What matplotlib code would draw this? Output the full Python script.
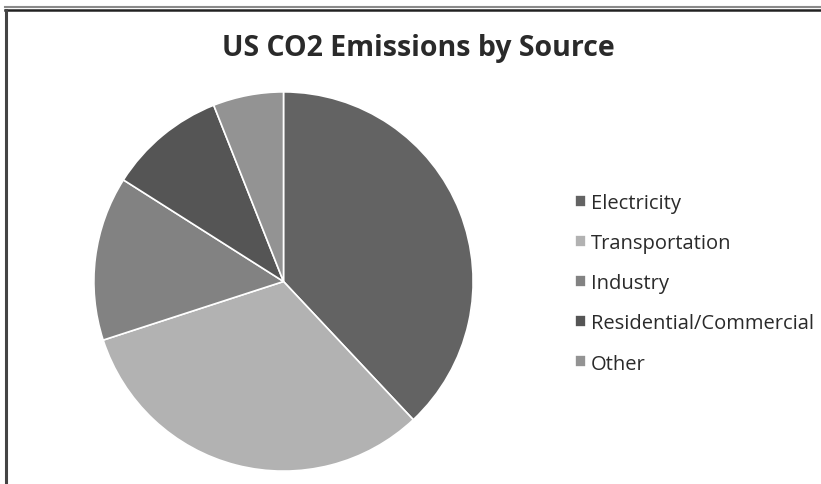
import matplotlib
matplotlib.use("Agg")
import matplotlib.pyplot as plt
from matplotlib.lines import Line2D

categories = ["Electricity", "Transportation", "Industry", "Residential/Commercial", "Other"]
values = [38, 32, 14, 10, 6]
colors = ["#636363", "#b2b2b2", "#828282", "#555555", "#939393"]

W, H = 821, 485
fig = plt.figure(figsize=(W / 100, H / 100), dpi=100)
fig.patch.set_facecolor("white")

# frame lines
fig.add_artist(Line2D([5 / W, 1], [1 - 8 / H, 1 - 8 / H], color="#8a8a8a", lw=1.5, transform=fig.transFigure))
fig.add_artist(Line2D([5 / W, 1], [1 - 11 / H, 1 - 11 / H], color="#222222", lw=1.8, transform=fig.transFigure))
fig.add_artist(Line2D([6 / W, 6 / W], [0, 1 - 11 / H], color="#444444", lw=2.2, transform=fig.transFigure))

cx, cy, r = 283.5, 282.5, 191.5
ax = fig.add_axes([(cx - r) / W, (H - cy - r) / H, 2 * r / W, 2 * r / H])
wedges, _ = ax.pie(values, colors=colors, startangle=90, counterclock=False,
                   wedgeprops=dict(edgecolor="white", linewidth=1.2))
ax.set_xlim(-1.01, 1.01)
ax.set_ylim(-1.01, 1.01)
ax.set_aspect("equal")
ax.axis("off")

fig.text(418 / W, 1 - 56 / H, "US CO2 Emissions by Source", ha="center", va="baseline",
         fontsize=20.5, fontweight="bold", family="Open Sans", color="#2a2a2a")

leg = fig.legend(wedges, categories, loc="upper left", bbox_to_anchor=(575 / W, 1 - 194 / H),
                 frameon=False, prop=dict(family="Open Sans", size=14.5),
                 handlelength=0.55, handleheight=0.55, handletextpad=0.25,
                 labelspacing=1.0, borderpad=0, borderaxespad=0)
for t in leg.get_texts():
    t.set_color("#2a2a2a")

fig.savefig("out.png", dpi=100)
